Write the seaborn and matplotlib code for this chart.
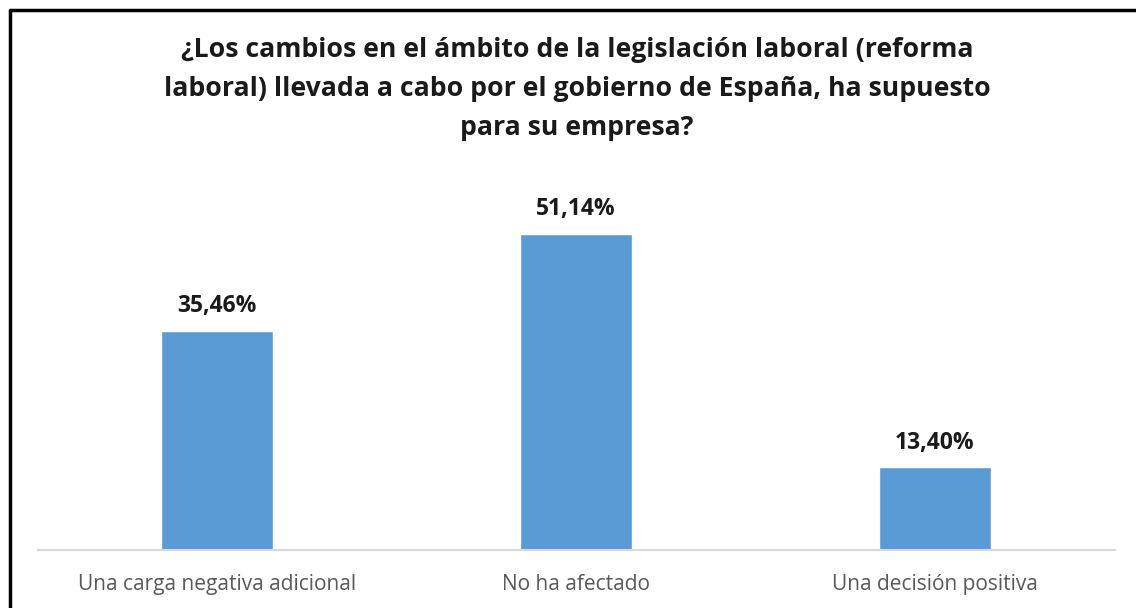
import pandas as pd
import matplotlib.pyplot as plt
import seaborn as sns
from matplotlib.lines import Line2D

categorias = ['Una carga negativa adicional', 'No ha afectado', 'Una decisión positiva']
valores = [35.46, 51.14, 13.40]
etiquetas = ['35,46%', '51,14%', '13,40%']
titulo = ('¿Los cambios en el ámbito de la legislación laboral (reforma\n'
          'laboral) llevada a cabo por el gobierno de España, ha supuesto\n'
          'para su empresa?')

sns.set_style('white')
plt.rcParams['font.family'] = ['Open Sans', 'DejaVu Sans']

df = pd.DataFrame({'categoria': categorias, 'valor': valores})

fig = plt.figure(figsize=(11.36, 6.08), dpi=100)
ax = fig.add_axes([37.5 / 1136, 58 / 608, 1077 / 1136, 371 / 608])

sns.barplot(data=df, x='categoria', y='valor', color='#5B9BD5', width=0.31,
            saturation=1, ax=ax)

ax.set_ylim(0, 60)
ax.set_xlim(-0.5, 2.5)
ax.set_yticks([])
ax.set_xlabel('')
ax.set_ylabel('')
for s in ['top', 'right', 'left']:
    ax.spines[s].set_visible(False)
ax.spines['bottom'].set_color('#D9D9D9')
ax.spines['bottom'].set_linewidth(1.5)
ax.tick_params(axis='x', length=0, pad=17, labelsize=15, labelcolor='#595959')

for i, (v, t) in enumerate(zip(valores, etiquetas)):
    ax.annotate(t, (i, v), xytext=(0, 9), textcoords='offset points',
                ha='center', va='bottom', fontsize=16.5, fontweight='bold',
                color='#1a1a1a')

fig.text(577 / 1136, 1 - 89 / 608, titulo, ha='center', va='center',
         fontsize=19.2, fontweight='bold', color='#1a1a1a', linespacing=1.65)

# marco negro (izquierda y arriba)
fig.add_artist(Line2D([9.5 / 1136, 9.5 / 1136], [0, 1 - 9.5 / 608],
                      transform=fig.transFigure, color='black', lw=2.5))
fig.add_artist(Line2D([9.5 / 1136, 1], [1 - 9.5 / 608, 1 - 9.5 / 608],
                      transform=fig.transFigure, color='black', lw=2.5))

fig.savefig('out.png', dpi=100)
